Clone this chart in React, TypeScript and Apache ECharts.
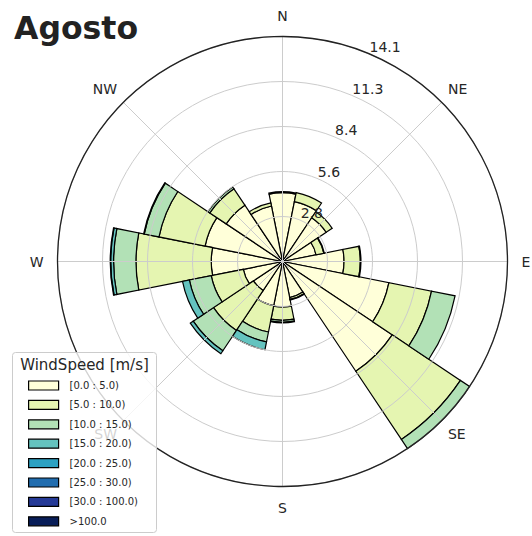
import React, { useEffect, useRef } from 'react';
import * as echarts from 'echarts';

const directions = ['N', 'NNE', 'NE', 'ENE', 'E', 'ESE', 'SE', 'SSE', 'S', 'SSW', 'SW', 'WSW', 'W', 'WNW', 'NW', 'NNW'];
const compassLabels = ['N', 'NE', 'E', 'SE', 'S', 'SW', 'W', 'NW'];
const speedBins = ['[0.0 : 5.0)', '[5.0 : 10.0)', '[10.0 : 15.0)', '[15.0 : 20.0)', '[20.0 : 25.0)', '[25.0 : 30.0)', '[30.0 : 100.0)', '>100.0'];
const binColors = ['#ffffd9', '#e5f5b1', '#b2e1b6', '#64c3bf', '#2ca1c2', '#216daf', '#253a97', '#081d58'];

// frequency (%) per direction, one array per speed bin
const bin0 = [4.30, 3.82, 3.29, 2.14, 3.85, 6.79, 8.26, 2.30, 2.85, 2.82, 2.19, 2.50, 4.46, 4.94, 4.24, 3.54];
const bin1 = [0.07, 0.58, 0.45, 0.50, 1.02, 2.72, 5.13, 0.12, 0.83, 1.68, 3.00, 2.05, 4.71, 2.94, 1.23, 0.20];
const bin2 = [0, 0, 0, 0.03, 0.04, 1.50, 0.69, 0.04, 0.12, 0.63, 1.53, 1.39, 1.40, 0.94, 0.14, 0];
const bin3 = [0, 0, 0, 0, 0, 0, 0, 0, 0.04, 0.50, 0.22, 0.44, 0.18, 0.04, 0, 0];
const bin4 = [0, 0, 0, 0, 0, 0, 0, 0, 0, 0, 0, 0, 0.03, 0, 0, 0];
const bin5 = [0, 0, 0, 0, 0, 0, 0, 0, 0, 0, 0, 0, 0, 0, 0, 0];
const bin6 = [0, 0, 0, 0, 0, 0, 0, 0, 0, 0, 0, 0, 0, 0, 0, 0];
const bin7 = [0, 0, 0, 0, 0, 0, 0, 0, 0, 0, 0, 0, 0, 0, 0, 0];

const radiusMax = 14.08;
const radiusStep = 2.816;

const titleText = 'Agosto';
const legendTitle = 'WindSpeed [m/s]';

export default function App() {
  const ref = useRef<HTMLDivElement>(null);

  useEffect(() => {
    if (!ref.current) return;
    const chart = echarts.init(ref.current, null, { renderer: 'svg' });
    const font = 'DejaVu Sans';
    const cx = 282.5;
    const cy = 261.5;
    const R = 225;
    const bins = [bin0, bin1, bin2, bin3, bin4, bin5, bin6, bin7];

    const series = speedBins.map((name, i) => ({
      type: 'bar',
      name,
      coordinateSystem: 'polar',
      polarIndex: 2,
      stack: 'wind',
      barCategoryGap: '0%',
      data: bins[i].map((v) => (v > 0 ? v : '-')),
      itemStyle: { color: binColors[i], borderColor: '#000', borderWidth: 1.2 },
      silent: true,
      z: 2,
    }));

    const polarBase = { center: [cx, cy], radius: R };

    const option: any = {
      animation: false,
      textStyle: { fontFamily: font },
      polar: [polarBase, polarBase, polarBase, polarBase],
      angleAxis: [
        {
          polarIndex: 0,
          type: 'value',
          min: 0,
          max: 360,
          interval: 45,
          startAngle: 90,
          clockwise: true,
          z: 5,
          axisLine: { show: true, lineStyle: { color: '#222', width: 1.3 } },
          axisTick: { show: false },
          splitLine: { show: true, lineStyle: { color: '#cccccc', width: 1 } },
          axisLabel: {
            show: true,
            margin: 9,
            fontSize: 14,
            color: '#262626',
            formatter: (v: number) => {
              const idx = Math.round(v / 45) % 8;
              return idx % 2 === 1 ? compassLabels[idx] : '';
            },
          },
        },
        { polarIndex: 1, type: 'value', min: 0, max: 360, startAngle: 67.5, show: false },
        { polarIndex: 2, type: 'category', data: directions, startAngle: 101.25, clockwise: true, show: false },
        {
          polarIndex: 3,
          type: 'value',
          min: 0,
          max: 360,
          interval: 90,
          startAngle: 90,
          clockwise: true,
          z: 5,
          axisLine: { show: false },
          axisTick: { show: false },
          splitLine: { show: false },
          axisLabel: {
            margin: 14,
            fontSize: 14,
            color: '#262626',
            formatter: (v: number) => compassLabels[Math.round(v / 45) % 8],
          },
        },
      ],
      radiusAxis: [
        {
          polarIndex: 0,
          type: 'value',
          min: 0,
          max: radiusMax,
          interval: radiusStep,
          z: 4,
          axisLine: { show: false },
          axisTick: { show: false },
          axisLabel: { show: false },
          splitLine: { show: true, lineStyle: { color: '#cccccc', width: 1 } },
        },
        {
          polarIndex: 1,
          type: 'value',
          min: 0,
          max: radiusMax,
          interval: radiusStep,
          z: 6,
          axisLine: { show: false },
          axisTick: { show: false },
          splitLine: { show: false },
          axisLabel: {
            showMinLabel: false,
            margin: -1,
            align: 'left',
            verticalAlign: 'bottom',
            fontSize: 14,
            color: '#262626',
            formatter: (v: number) => v.toFixed(1),
          },
        },
        { polarIndex: 2, type: 'value', min: 0, max: radiusMax, show: false },
        { polarIndex: 3, type: 'value', min: 0, max: radiusMax, show: false },
      ],
      legend: {
        orient: 'vertical',
        left: 28,
        top: 379.5,
        padding: 0,
        itemWidth: 30,
        itemHeight: 9,
        itemGap: 7.4,
        icon: 'rect',
        z: 20,
        selectedMode: false,
        data: speedBins,
        itemStyle: { borderColor: '#000', borderWidth: 1.2 },
        textStyle: { fontSize: 10, color: '#262626', fontFamily: font, lineHeight: 12, padding: [0, 0, 0, 6] },
      },
      graphic: [
        {
          type: 'rect',
          z: 15,
          shape: { x: 12.5, y: 352.5, width: 144, height: 180, r: 3 },
          style: { fill: 'rgba(255,255,255,0.8)', stroke: '#cccccc', lineWidth: 1 },
        },
        {
          type: 'text',
          z: 16,
          x: 84.5,
          y: 365.2,
          style: { text: legendTitle, fontFamily: font, fontSize: 15, fill: '#262626', align: 'center', verticalAlign: 'middle' },
        },
        {
          type: 'text',
          z: 16,
          x: 14,
          y: 28,
          style: { text: titleText, fontFamily: font, fontSize: 31.5, fontWeight: 'bold', fill: '#222222', align: 'left', verticalAlign: 'middle' },
        },
      ],
      series,
    };

    chart.setOption(option);
    return () => chart.dispose();
  }, []);

  return <div ref={ref} style={{ position: 'absolute', left: 0, top: 0, width: 532, height: 536 }} />;
}
